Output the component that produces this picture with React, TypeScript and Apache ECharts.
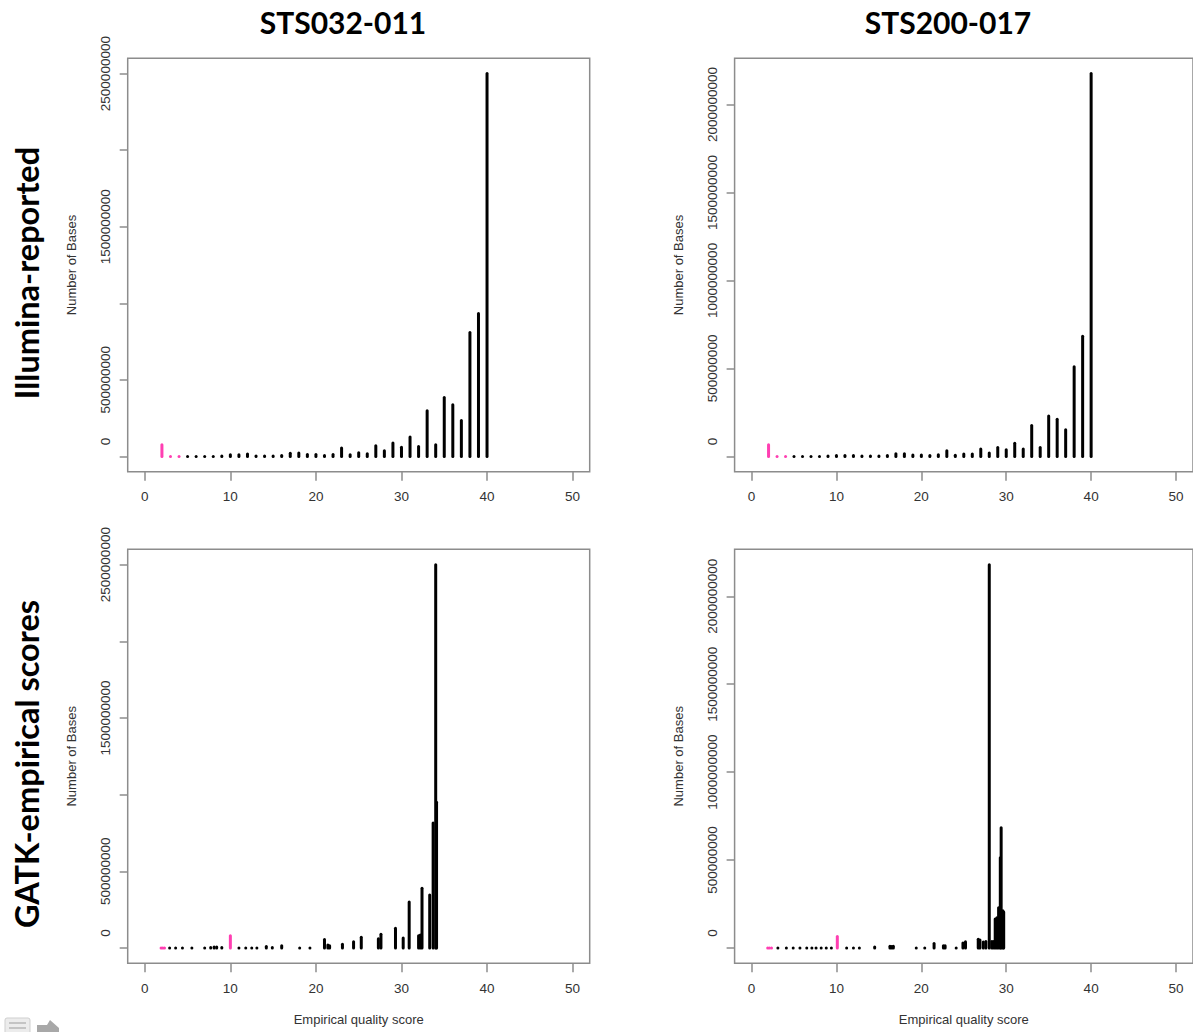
import React, { useEffect, useRef } from "react";
import * as echarts from "echarts";

// ---------- Data ----------
const columnTitles = ["STS032-011", "STS200-017"];
const rowTitles = ["Illumina-reported", "GATK-empirical scores"];
const xTickValues = [0, 10, 20, 30, 40, 50];
const yTicksA = [0, 500000000, 1000000000, 1500000000, 2000000000, 2500000000];
const yLabelsA = [0, 500000000, 1500000000, 2500000000];
const yTicksB = [0, 500000000, 1000000000, 1500000000, 2000000000];
const yLabelsB = [0, 500000000, 1000000000, 1500000000, 2000000000];

// Illumina-reported quality scores
const illuminaPinkQ = [2, 3, 4];
const illuminaBlackQ = [5, 6, 7, 8, 9, 10, 11, 12, 13, 14, 15, 16, 17, 18, 19, 20, 21, 22, 23, 24, 25, 26, 27, 28, 29, 30, 31, 32, 33, 34, 35, 36, 37, 38, 39, 40];

const sts032IlluminaPink = [76e6, 0, 0];
const sts032IlluminaBlack = [0, 0, 0, 0, 2e6, 11e6, 11e6, 15e6, 3e6, 3e6, 3e6, 6e6, 20e6, 22e6, 12e6, 12e6, 5e6, 12e6, 54e6, 11e6, 24e6, 17e6, 70e6, 37e6, 87e6, 59e6, 126e6, 65e6, 298e6, 76e6, 385e6, 337e6, 235e6, 809e6, 933e6, 2500e6];

const sts200IlluminaPink = [66e6, 0, 0];
const sts200IlluminaBlack = [0, 0, 0, 0, 2e6, 5e6, 5e6, 5e6, 2e6, 2e6, 2e6, 5e6, 15e6, 15e6, 8e6, 8e6, 5e6, 10e6, 32e6, 6e6, 13e6, 13e6, 42e6, 19e6, 51e6, 38e6, 75e6, 42e6, 175e6, 51e6, 230e6, 211e6, 151e6, 509e6, 683e6, 2175e6];

// GATK-empirical scores
const sts032GatkPinkQ = [1.9, 2.1, 2.3, 10.0];
const sts032GatkPink = [0, 0, 0, 80e6];
const sts032GatkBlackQ = [2.9, 3.6, 4.4, 5.5, 7.0, 7.7, 8.1, 8.4, 9.0, 11.0, 11.8, 12.5, 13.1, 14.2, 14.9, 16.0, 18.1, 19.3, 21.0, 21.4, 21.6, 23.1, 24.4, 25.3, 27.3, 27.6, 29.3, 30.2, 30.9, 32.0, 32.2, 32.4, 33.3, 33.7, 34.0, 34.1];
const sts032GatkBlack = [0, 0, 0, 0, 0, 3e6, 6e6, 6e6, 3e6, 0, 0, 0, 0, 10e6, 3e6, 15e6, 0, 0, 55e6, 20e6, 15e6, 25e6, 40e6, 70e6, 60e6, 90e6, 128e6, 65e6, 300e6, 80e6, 85e6, 390e6, 345e6, 815e6, 2500e6, 950e6];

const sts200GatkPinkQ = [1.9, 2.1, 2.35, 10.1];
const sts200GatkPink = [0, 0, 0, 65e6];
const sts200GatkBlackQ = [3.1, 4.1, 4.9, 5.7, 6.5, 7.1, 7.6, 8.2, 8.8, 9.4, 11.2, 12.0, 12.7, 14.5, 16.3, 16.5, 16.7, 19.4, 20.4, 21.5, 22.6, 22.8, 24.1, 24.9, 25.2, 26.7, 26.9, 27.3, 27.6, 28.0, 28.3, 28.5, 28.7, 28.9, 29.1, 29.3, 29.4, 29.6, 29.7];
const sts200GatkBlack = [0, 0, 0, 0, 0, 0, 0, 0, 0, 0, 0, 0, 0, 5e6, 10e6, 8e6, 10e6, 0, 0, 25e6, 12e6, 12e6, 0, 28e6, 35e6, 50e6, 45e6, 34e6, 37e6, 2180e6, 37e6, 37e6, 165e6, 172e6, 228e6, 513e6, 683e6, 212e6, 205e6];

// ---------- Styling ----------
const FONT = "'Liberation Sans', Arial, Helvetica, sans-serif";
const TITLE_FONT = "Lato, 'Liberation Sans', sans-serif";
const PINK = "#ff3fb2";
const BLACK = "#000000";
const BOX = "#8c8c8c";
const TEXT = "#333333";

type Panel = {
  grid: { left: number; top: number; width: number; height: number };
  blackQ: number[];
  black: number[];
  pinkQ: number[];
  pink: number[];
  yTicks: number[];
  yLabels: number[];
  showXName: boolean;
};

const panels: Panel[] = [
  { grid: { left: 127.7, top: 58.3, width: 462, height: 413.4 }, blackQ: illuminaBlackQ, black: sts032IlluminaBlack, pinkQ: illuminaPinkQ, pink: sts032IlluminaPink, yTicks: yTicksA, yLabels: yLabelsA, showXName: false },
  { grid: { left: 734.6, top: 58.3, width: 461.2, height: 413.4 }, blackQ: illuminaBlackQ, black: sts200IlluminaBlack, pinkQ: illuminaPinkQ, pink: sts200IlluminaPink, yTicks: yTicksB, yLabels: yLabelsB, showXName: false },
  { grid: { left: 127.7, top: 549.3, width: 462, height: 414 }, blackQ: sts032GatkBlackQ, black: sts032GatkBlack, pinkQ: sts032GatkPinkQ, pink: sts032GatkPink, yTicks: yTicksA, yLabels: yLabelsA, showXName: true },
  { grid: { left: 734.6, top: 549.3, width: 461.2, height: 414 }, blackQ: sts200GatkBlackQ, black: sts200GatkBlack, pinkQ: sts200GatkPinkQ, pink: sts200GatkPink, yTicks: yTicksB, yLabels: yLabelsB, showXName: true },
];

function spikeSeries(idx: number, qs: number[], vals: number[], color: string) {
  return {
    type: "custom",
    xAxisIndex: idx,
    yAxisIndex: idx,
    clip: false,
    encode: { x: 0, y: 1 },
    data: qs.map((q, i) => [q, vals[i]]),
    renderItem: (_params: any, api: any) => {
      const q = api.value(0);
      const v = api.value(1);
      const p0 = api.coord([q, 0]);
      const p1 = api.coord([q, v]);
      const y2 = Math.min(p1[1], p0[1] - 0.01);
      return {
        type: "line",
        shape: { x1: p0[0], y1: p0[1], x2: p1[0], y2 },
        style: { stroke: color, lineWidth: 3, lineCap: "round" },
      };
    },
  };
}

function buildOption() {
  const grid: any[] = [];
  const xAxis: any[] = [];
  const yAxis: any[] = [];
  const series: any[] = [];

  panels.forEach((p, i) => {
    const peak = Math.max(...p.black, ...p.pink);
    grid.push({ ...p.grid, show: true, borderColor: BOX, borderWidth: 1.5, backgroundColor: "transparent", containLabel: false });
    xAxis.push({
      type: "value",
      gridIndex: i,
      position: "bottom",
      min: -2,
      max: 52,
      axisLine: { show: false, onZero: false },
      splitLine: { show: false },
      axisTick: { show: true, length: 9, lineStyle: { color: BOX, width: 1.5 }, customValues: xTickValues },
      axisLabel: { customValues: xTickValues, margin: 18, fontSize: 13.5, color: TEXT, fontFamily: FONT, formatter: (v: number) => String(Math.round(v)) },
      name: p.showXName ? "Empirical quality score" : "",
      nameLocation: "middle",
      nameGap: 50,
      nameTextStyle: { fontSize: 13, color: TEXT, fontFamily: FONT },
    });
    yAxis.push({
      type: "value",
      gridIndex: i,
      position: "left",
      min: -0.04 * peak,
      max: 1.04 * peak,
      axisLine: { show: false, onZero: false },
      splitLine: { show: false },
      axisTick: { show: true, length: 8, lineStyle: { color: BOX, width: 1.5 }, customValues: p.yTicks },
      axisLabel: {
        customValues: p.yLabels,
        rotate: 90,
        margin: 15,
        fontSize: 13.5,
        color: TEXT,
        fontFamily: FONT,
        formatter: (v: number) => {
          const r = Math.round(v);
          return r === 0 ? "{z|0}" : "{n|" + String(r) + "}";
        },
        rich: {
          z: { padding: [0, 0, 0, 30], fontSize: 13.5, color: TEXT, fontFamily: FONT },
          n: { fontSize: 13.5, color: TEXT, fontFamily: FONT },
        },
      },
      name: "Number of Bases",
      nameLocation: "middle",
      nameGap: 50,
      nameTextStyle: { fontSize: 13, color: TEXT, fontFamily: FONT },
    });
    series.push(spikeSeries(i, p.blackQ, p.black, BLACK));
    series.push(spikeSeries(i, p.pinkQ, p.pink, PINK));
  });

  const graphic: any[] = [
    { type: "text", x: 343, y: 22, style: { text: columnTitles[0], font: `bold 30px ${TITLE_FONT}`, fill: "#000", textAlign: "center", textVerticalAlign: "middle" } },
    { type: "text", x: 948, y: 22, style: { text: columnTitles[1], font: `bold 30px ${TITLE_FONT}`, fill: "#000", textAlign: "center", textVerticalAlign: "middle" } },
    { type: "text", x: 26, y: 273, rotation: Math.PI / 2, style: { text: rowTitles[0], font: `bold 32.5px ${TITLE_FONT}`, fill: "#000", textAlign: "center", textVerticalAlign: "middle" } },
    { type: "text", x: 26, y: 764, rotation: Math.PI / 2, style: { text: rowTitles[1], font: `bold 32.5px ${TITLE_FONT}`, fill: "#000", textAlign: "center", textVerticalAlign: "middle" } },
    // small navigation icons at bottom-left
    { type: "rect", shape: { x: 5, y: 1018, width: 25, height: 18, r: 2 }, style: { fill: "#ececec", stroke: "#cfcfcf", lineWidth: 1 } },
    { type: "line", shape: { x1: 9, y1: 1023, x2: 26, y2: 1023 }, style: { stroke: "#c4c4c4", lineWidth: 2 } },
    { type: "line", shape: { x1: 9, y1: 1028, x2: 26, y2: 1028 }, style: { stroke: "#c4c4c4", lineWidth: 2 } },
    { type: "polygon", shape: { points: [[37, 1025], [47, 1025], [50, 1020], [59, 1028], [59, 1033], [37, 1033]] }, style: { fill: "#a8a8a8" } },
  ];

  return {
    animation: false,
    backgroundColor: "#ffffff",
    grid,
    xAxis,
    yAxis,
    series,
    graphic,
  };
}

export default function App() {
  const ref = useRef<HTMLDivElement>(null);
  useEffect(() => {
    if (!ref.current) return;
    const chart = echarts.init(ref.current, undefined, { renderer: "svg" });
    chart.setOption(buildOption() as any);
    return () => chart.dispose();
  }, []);
  return <div ref={ref} style={{ position: "absolute", left: 0, top: 0, width: 1193, height: 1032 }} />;
}
